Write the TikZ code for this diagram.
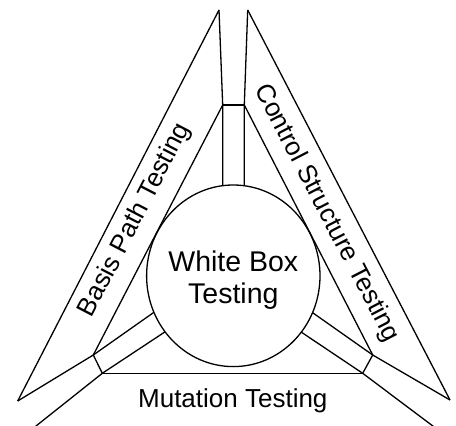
\documentclass[tikz,border=0pt]{standalone}
\usepackage{fontspec}
\setmainfont{Liberation Sans}
\usetikzlibrary{shapes.geometric}
\begin{document}
\begin{tikzpicture}[x=1pt,y=-1pt,
  ln/.style={line width=1.3pt,line join=miter},
  lbl/.style={inner sep=0pt,font=\fontsize{26}{30}\selectfont}]
\useasboundingbox (0,0) rectangle (456,426);
% points
\coordinate (tl) at (219,10);
\coordinate (tr) at (247.7,10);
\coordinate (jtl) at (222.7,105);
\coordinate (jtr) at (244.3,105);
\coordinate (ctl) at (222.7,230);
\coordinate (ctr) at (244.3,230);
\coordinate (ol) at (17.7,401);
\coordinate (jlu) at (93.3,355);
\coordinate (jll) at (102.3,373.3);
\coordinate (clu) at (163.3,305.7);
\coordinate (cll) at (174.3,325.7);
\coordinate (bl) at (33.5,428);
\coordinate (or) at (450,400);
\coordinate (jru) at (372.7,355);
\coordinate (jrl) at (362.7,373.3);
\coordinate (cru) at (302.7,305.7);
\coordinate (crl) at (291.7,325.7);
\coordinate (br) at (435.5,428);
% spokes (ending inside the circle, covered by it)
\draw[ln] (tl) -- (jtl) -- (ctl);
\draw[ln] (tr) -- (jtr) -- (ctr);
\draw[ln] (jtl) -- (jtr);
\draw[ln] (ol) -- (jlu) -- (clu);
\draw[ln] (bl) -- (jll) -- (cll);
\draw[ln] (jlu) -- (jll);
\draw[ln] (or) -- (jru) -- (cru);
\draw[ln] (br) -- (jrl) -- (crl);
\draw[ln] (jru) -- (jrl);
\draw[ln] (jll) -- (jrl);
% circle
\node[ln,draw,fill=white,ellipse,minimum width=173.4pt,minimum height=181.6pt,inner sep=0pt] (wb) at (233.3,275.8) {};
\node[inner sep=0pt,align=center,font=\fontsize{28.5}{31.6}\selectfont] (wbt) at (233.3,280.3) {White Box\\Testing};
% bands
\draw[ln] (ol) -- (tl);
\draw[ln] (jtl) -- (jlu);
\draw[ln] (or) -- (tr);
\draw[ln] (jtr) -- (jru);
% labels
\node[lbl,rotate=62.6] (bp) at (135,220) {Basis Path Testing};
\node[lbl,rotate=-62.6] (cs) at (326.5,213.3) {Control Structure Testing};
\node[lbl,anchor=base] (mt) at (232.8,407.3) {Mutation Testing};
\end{tikzpicture}
\end{document}
